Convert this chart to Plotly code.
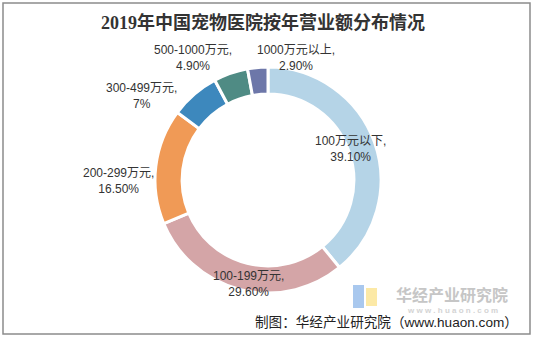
import plotly.graph_objects as go

categories = ["100万元以下", "100-199万元", "200-299万元", "300-499万元", "500-1000万元", "1000万元以上"]
values = [39.1, 29.6, 16.5, 7.0, 4.9, 2.9]
pct_text = ["39.10%", "29.60%", "16.50%", "7%", "4.90%", "2.90%"]
colors = ["#B5D4E7", "#D4A5A7", "#F09A56", "#3D88BD", "#4F8B84", "#6D77A9"]

# label anchor positions (pixels from top-left), styling only
label_pos = [(350, 149), (248, 284), (118, 181), (141, 96), (193, 58), (296, 58)]

W, H = 533, 337
cx, cy, R = 268, 180, 113


def px(x):
    return x / W


def py(y):
    return 1 - y / H


fig = go.Figure()
fig.add_trace(go.Pie(
    labels=categories, values=values, hole=0.76, sort=False, direction="clockwise",
    rotation=0, marker=dict(colors=colors, line=dict(color="white", width=3)),
    textinfo="none", hoverinfo="label+percent", showlegend=False,
    domain=dict(x=[px(cx - R), px(cx + R)], y=[py(cy + R), py(cy - R)]),
))

lab_font = dict(family="Liberation Sans, Noto Sans CJK SC", size=12, color="#333333")
for c, t, (x, y) in zip(categories, pct_text, label_pos):
    fig.add_annotation(x=px(x), y=py(y), xref="paper", yref="paper", xanchor="center", yanchor="middle",
                       text=f"{c},<br>{t}", showarrow=False, font=lab_font, align="center")

fig.add_annotation(x=px(263), y=py(22), xref="paper", yref="paper", xanchor="center", yanchor="middle",
                   text="<b>2019年中国宠物医院按年营业额分布情况</b>", showarrow=False,
                   font=dict(family="Liberation Serif, Noto Sans CJK SC", size=18, color="#333333"))

# watermark
fig.add_shape(type="rect", xref="paper", yref="paper", x0=px(353), x1=px(364), y0=py(308), y1=py(285),
              fillcolor="#A9C8EE", line=dict(width=0), layer="below")
fig.add_shape(type="rect", xref="paper", yref="paper", x0=px(366), x1=px(377), y0=py(306), y1=py(288),
              fillcolor="#FCE9A6", line=dict(width=0), layer="below")
fig.add_annotation(x=px(452), y=py(294), xref="paper", yref="paper", xanchor="center", yanchor="middle",
                   text="<b>华经产业研究院</b>", showarrow=False,
                   font=dict(family="Noto Sans CJK SC", size=16, color="#C6C6C6"))
fig.add_annotation(x=px(452), y=py(310), xref="paper", yref="paper", xanchor="center", yanchor="middle",
                   text="<b>w w w . h u a o n . c o m</b>", showarrow=False,
                   font=dict(family="Liberation Sans", size=8, color="#D4D4D4"))

fig.add_annotation(x=px(520), y=py(322), xref="paper", yref="paper", xanchor="right", yanchor="middle",
                   text="制图：华经产业研究院（www.huaon.com）", showarrow=False,
                   font=dict(family="Liberation Sans, Noto Sans CJK SC", size=13.6, color="#222222"))

# frame
fig.add_shape(type="rect", xref="paper", yref="paper", x0=px(3), x1=px(530), y0=py(334), y1=py(3),
              line=dict(color="#8C8C8C", width=1.5))

fig.update_layout(width=W, height=H, margin=dict(l=0, r=0, t=0, b=0),
                  paper_bgcolor="white", plot_bgcolor="white")
fig.write_html("out.html")
